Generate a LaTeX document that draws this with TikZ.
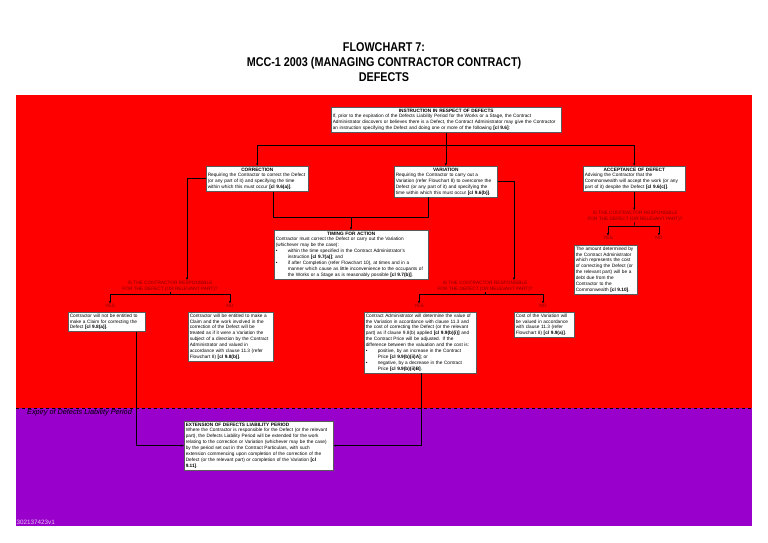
\documentclass[tikz,border=0pt]{standalone}
\usepackage{fontspec}
\setmainfont{Liberation Sans}
\newfontfamily\titlefont[FakeStretch=0.85]{Liberation Sans}
\usetikzlibrary{arrows.meta}
\definecolor{bgred}{RGB}{255,0,0}
\definecolor{bgpurple}{RGB}{153,0,204}
\definecolor{qtext}{RGB}{128,0,0}
\definecolor{boxline}{RGB}{90,90,90}
\definecolor{idtext}{RGB}{230,200,240}
\newcommand{\boxfont}{\fontsize{4.75}{5.9}\selectfont\hyphenpenalty=10000 \exhyphenpenalty=10000\relax}
\tikzset{
  txtbox/.style={draw=boxline, line width=0.5pt, fill=white, inner sep=1.5pt,
    anchor=north west, align=left, font=\boxfont},
  question/.style={text=qtext, align=center, inner sep=0.5pt, font=\fontsize{4.75}{5.7}\selectfont},
  yesno/.style={text=qtext, inner sep=0.5pt, font=\fontsize{4.75}{6}\selectfont},
  conn/.style={draw=black, line width=0.45pt},
  arr/.style={conn, -{Latex[length=2.6pt,width=2.2pt]}},
}
\newcommand{\boxhead}[1]{\hfill\textbf{#1}\hfill\null}
\newcommand{\boxpad}[1]{\par\vspace*{#1}}
\newcommand{\bul}{\makebox[12pt][l]{\textbullet}}
\newcommand{\ind}{\hspace*{12pt}}

\begin{document}
\begin{tikzpicture}[x=1pt,y=-1pt]
\useasboundingbox (0,0) rectangle (768,543);

% background bands
\fill[bgred] (16,95) rectangle (752,408);
\fill[bgpurple] (16,408) rectangle (752,526);
\draw[dashed, line width=0.4pt] (16,408) -- (752,408);

\node[font=\fontsize{12.7}{15}\titlefont\bfseries, align=center] (title) at (384,62)
  {FLOWCHART 7:\\MCC-1 2003 (MANAGING CONTRACTOR CONTRACT)\\DEFECTS};

% instruction and the three options
\node[txtbox, text width=227pt] (instr) at (331,107) {\boxhead{INSTRUCTION IN RESPECT OF DEFECTS}\\
  If, prior to the expiration of the Defects Liability Period for the Works or a Stage, the Contract\\
  Administrator discovers or believes there is a Defect, the Contract Administrator may give the Contractor\\
  an instruction specifying the Defect and doing one or more of the following \textbf{[cl 9.6]}:};

\node[txtbox, text width=99pt] (corr) at (206,166) {\boxhead{CORRECTION}\\
  Requiring the Contractor to correct the Defect\\
  (or any part of it) and specifying the time\\
  within which this must occur \textbf{[cl 9.6(a)]}.\boxpad{5pt}};

\node[txtbox, text width=100pt] (vari) at (394,166) {\boxhead{VARIATION}\\
  Requiring the Contractor to carry out a\\
  Variation (refer Flowchart 8) to overcome the\\
  Defect (or any part of it) and specifying the\\
  time within which this must occur \textbf{[cl 9.6(b)]}.};

\node[txtbox, text width=99pt] (accept) at (583,166) {\boxhead{ACCEPTANCE OF DEFECT}\\
  Advising the Contractor that the\\
  Commonwealth will accept the work (or any\\
  part of it) despite the Defect \textbf{[cl 9.6(c)]}.\boxpad{3pt}};

% acceptance branch
\node[question] (qright) at (635,216) {IS THE CONTRACTOR RESPONSIBLE\\FOR THE DEFECT (OR RELEVANT PART)?};
\node[yesno] (yesR) at (608,238) {YES};
\node[yesno] (noR) at (659,238) {NO};
\node[txtbox, text width=60pt] (amount) at (574,245) {The amount determined by\\
  the Contract Administrator\\
  which represents the cost\\
  of correcting the Defect (or\\
  the relevant part) will be a\\
  debt due from the\\
  Contractor to the\\
  Commonwealth \textbf{[cl 9.10]}.};

% timing
\node[txtbox, text width=151pt] (timing) at (274,230) {\boxhead{TIMING FOR ACTION}\\
  Contractor must correct the Defect or carry out the Variation\\
  (whichever may be the case):\\
  \bul within the time specified in the Contract Administrator's\\
  \ind instruction \textbf{[cl 9.7(a)]}; and\\
  \bul if after Completion (refer Flowchart 10), at times and in a\\
  \ind manner which cause as little inconvenience to the occupants of\\
  \ind the Works or a Stage as is reasonably possible \textbf{[cl 9.7(b)]}.};

% correction branch
\node[question] (qleft) at (170,286) {IS THE CONTRACTOR RESPONSIBLE\\FOR THE DEFECT (OR RELEVANT PART)?};
\node[yesno] (yesL) at (110,306) {YES};
\node[yesno] (noL) at (230,306) {NO};
\node[txtbox, text width=74pt] (noclaim) at (68,312) {Contractor will not be entitled to\\
  make a Claim for correcting the\\
  Defect \textbf{[cl 9.8(a)]}.};
\node[txtbox, text width=82pt] (claim) at (188,312) {Contractor will be entitled to make a\\
  Claim and the work involved in the\\
  correction of the Defect will be\\
  treated as if it were a Variation the\\
  subject of a direction by the Contract\\
  Administrator and valued in\\
  accordance with clause 11.3 (refer\\
  Flowchart 8) \textbf{[cl 9.8(b)]}.};

% variation branch
\node[question] (qmid) at (485,286) {IS THE CONTRACTOR RESPONSIBLE\\FOR THE DEFECT (OR RELEVANT PART)?};
\node[yesno] (yesM) at (419,306) {YES};
\node[yesno] (noM) at (543,306) {NO};
\node[txtbox, text width=109pt] (adjust) at (364,312) {Contract Administrator will determine the value of\\
  the Variation in accordance with clause 11.3 and\\
  the cost of correcting the Defect (or the relevant\\
  part) as if clause 9.8(b) applied \textbf{[cl 9.9(b)(i)]} and\\
  the Contract Price will be adjusted. If the\\
  difference between the valuation and the cost is:\\
  \bul positive, by an increase in the Contract\\
  \ind Price \textbf{[cl 9.9(b)(ii)A]}; or\\
  \bul negative, by a decrease in the Contract\\
  \ind Price \textbf{[cl 9.9(b)(ii)B]}.};
\node[txtbox, text width=57pt] (costvar) at (514,312) {Cost of the Variation will\\
  be valued in accordance\\
  with clause 11.3 (refer\\
  Flowchart 8) \textbf{[cl 9.9(a)]}.\boxpad{9pt}};

% defects liability period
\node[anchor=north west, inner sep=0pt, font=\fontsize{7.3}{8}\selectfont\itshape] (expiry) at (27,409.5)
  {Expiry of Defects Liability Period};
\node[txtbox, text width=146pt] (extend) at (184,421) {\textbf{EXTENSION OF DEFECTS LIABILITY PERIOD}\\
  Where the Contractor is responsible for the Defect (or the relevant\\
  part), the Defects Liability Period will be extended for the work\\
  relating to the correction or Variation (whichever may be the case)\\
  by the period set out in the Contract Particulars, with such\\
  extension commencing upon completion of the correction of the\\
  Defect (or the relevant part) or completion of the Variation \textbf{[cl}\\
  \textbf{9.11]}.};
\node[anchor=west, inner sep=0pt, text=idtext, font=\fontsize{6.3}{7}\selectfont] (docid) at (16.5,522) {302137423v1};

% connectors
\coordinate (topfork) at (0,145);
\draw[conn] (instr.south) -- (instr.south |- topfork);
\draw[conn] (corr.north |- topfork) -- (accept.north |- topfork);
\draw[arr] (corr.north |- topfork) -- (corr.north);
\draw[arr] (vari.north |- topfork) -- (vari.north);
\draw[arr] (accept.north |- topfork) -- (accept.north);

\draw[arr] (accept.south) -- (accept.south |- qright.north);
\coordinate (rsplit) at (634,226);
\draw[conn] (qright.south) -- (rsplit);
\draw[conn] (yesR.north |- rsplit) -- (noR.north |- rsplit);
\draw[arr] (yesR.north |- rsplit) -- (yesR.north);
\draw[arr] (noR.north |- rsplit) -- (noR.north);

\coordinate (dropQL) at (187,0);
\draw[arr] ([yshift=1pt]corr.west) -| (dropQL |- qleft.north);
\coordinate (dropC) at (273,0);
\coordinate (dropV) at (428,0);
\coordinate (tmerge) at (351,217);
\draw[conn] (dropC |- corr.south) -- (dropC |- tmerge) -- (dropV |- tmerge) -- (dropV |- vari.south);
\draw[arr] (tmerge) -- (tmerge |- timing.north);
\coordinate (dropQM) at (514,0);
\draw[arr] (vari.east) -| (dropQM |- qmid.north);

\coordinate (lsplit) at (170,294);
\draw[conn] (qleft.south) -- (lsplit);
\draw[conn] (yesL.north |- lsplit) -- (noL.north |- lsplit);
\draw[arr] (yesL.north |- lsplit) -- (yesL.north);
\draw[arr] (noL.north |- lsplit) -- (noL.north);

\coordinate (msplit) at (481,294);
\draw[conn] (qmid.south) -- (qmid.south |- msplit);
\draw[conn] (yesM.north |- msplit) -- (noM.north |- msplit);
\draw[arr] (yesM.north |- msplit) -- (yesM.north);
\draw[arr] (noM.north |- msplit) -- (noM.north);

\coordinate (dropL) at (136,0);
\draw[arr] (dropL |- noclaim.south) |- (extend.west);
\coordinate (dropM) at (421,0);
\draw[arr] (dropM |- adjust.south) |- (extend.east);

\end{tikzpicture}
\end{document}
